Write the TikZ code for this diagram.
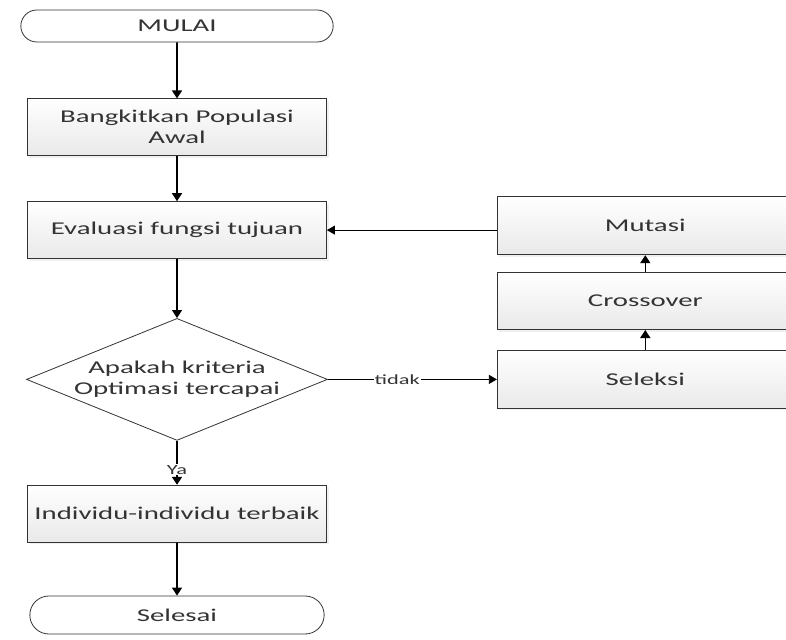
\documentclass[tikz,border=0pt]{standalone}
\usepackage{fontspec}
\newfontfamily\flowfont[FakeStretch=1.6]{Carlito}
\usepackage{tikz}
\usetikzlibrary{positioning, arrows.meta, shapes.geometric, shapes.misc, shadows}
\definecolor{txtGray}{HTML}{333333}
\definecolor{lineGray}{HTML}{333333}
\definecolor{boxTop}{HTML}{ffffff}
\definecolor{boxBot}{HTML}{e9e9e9}
\newcommand{\flowsize}{\flowfont\fontsize{18}{21}\selectfont}

\begin{document}
\begin{tikzpicture}[x=1pt, y=-1pt, box/.style={draw=lineGray, line width=0.8pt, minimum width=299pt, minimum height=57pt, align=center, top color=boxTop, bottom color=boxBot, drop shadow={opacity=0.12, shadow xshift=2pt, shadow yshift=-2pt}, font=\flowsize, text=txtGray}, term/.style={rounded rectangle, draw=lineGray, line width=0.8pt, fill=white, font=\flowsize, text=txtGray}, dec/.style={diamond, aspect=2.47, draw=lineGray, line width=0.8pt, fill=white, minimum width=301pt, minimum height=122pt, inner sep=0pt, align=center, font=\flowsize, text=txtGray}, flow/.style={-{Triangle[length=8pt, width=10pt]}, line width=1.6pt}, link/.style={-{Triangle[length=8pt, width=9pt]}, line width=0.8pt}, lbl/.style={font=\flowfont\fontsize{14}{16}\selectfont, text=txtGray, fill=white, inner sep=1pt}]
\useasboundingbox (0,0) rectangle (786,639);
\node[term, minimum width=319pt, minimum height=32pt] (mulai) at (177,26) {MULAI};
\node[box, below=56pt of mulai] (bangkit) {Bangkitkan Populasi\\Awal};
\node[box, below=45pt of bangkit] (evaluasi) {Evaluasi fungsi tujuan};
\node[dec, below=59pt of evaluasi] (kriteria) {Apakah kriteria\\Optimasi tercapai};
\node[box, below=44pt of kriteria] (terbaik) {Individu-individu terbaik};
\node[term, minimum width=301pt, minimum height=38pt, below=53pt of terbaik] (selesai) {Selesai};
\node[box, minimum width=296pt, minimum height=58pt, right=169pt of kriteria] (seleksi) {Seleksi};
\node[box, minimum width=296pt, minimum height=57pt, above=20pt of seleksi] (crossover) {Crossover};
\node[box, minimum width=296pt, minimum height=58pt, above=17pt of crossover] (mutasi) {Mutasi};
\draw[flow] (mulai) -- (bangkit);
\draw[flow] (bangkit) -- (evaluasi);
\draw[flow] (evaluasi) -- (kriteria);
\draw[flow] (kriteria) -- (terbaik) node[lbl, pos=0.66] (ya) {Ya};
\draw[flow] (terbaik) -- (selesai);
\draw[link] (kriteria.east) -- (seleksi.west) node[lbl, pos=0.41] (tidak) {tidak};
\draw[flow] (seleksi) -- (crossover);
\draw[flow] (crossover) -- (mutasi);
\draw[link] (mutasi.west |- evaluasi.east) -- (evaluasi.east);
\end{tikzpicture}
\end{document}
